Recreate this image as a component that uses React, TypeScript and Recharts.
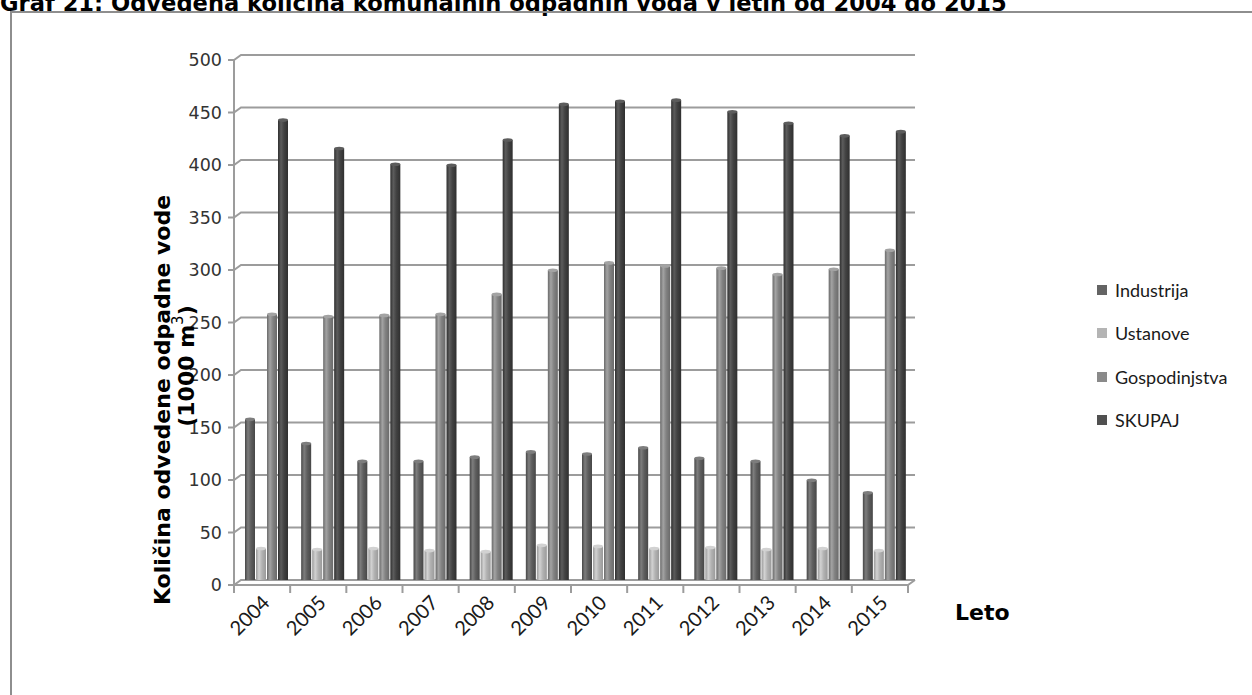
import { Bar, BarChart, CartesianGrid, Legend, XAxis, YAxis } from "recharts"

// Odvedena količina komunalnih odpadnih voda (1000 m3)
const years = ["2004", "2005", "2006", "2007", "2008", "2009", "2010", "2011", "2012", "2013", "2014", "2015"]
const industrija = [153, 130, 113, 113, 117, 122, 120, 126, 116, 113, 95, 83]
const ustanove = [30, 29, 30, 28, 27, 33, 32, 30, 31, 29, 30, 28]
const gospodinjstva = [253, 251, 252, 253, 272, 295, 302, 299, 297, 291, 296, 314]
const skupaj = [438, 411, 396, 395, 419, 453, 456, 457, 446, 435, 423, 427]
const yTicks = [0, 50, 100, 150, 200, 250, 300, 350, 400, 450, 500]

const series = [
    { key: "industrija", name: "Industrija", base: "#5e5e5e", light: "#7d7d7d", dark: "#474747", swatch: "#646464" },
    { key: "ustanove", name: "Ustanove", base: "#b2b2b2", light: "#d2d2d2", dark: "#9a9a9a", swatch: "#b4b4b4" },
    { key: "gospodinjstva", name: "Gospodinjstva", base: "#828282", light: "#a3a3a3", dark: "#6a6a6a", swatch: "#8a8a8a" },
    { key: "skupaj", name: "SKUPAJ", base: "#424242", light: "#5c5c5c", dark: "#2f2f2f", swatch: "#505050" },
]

const data = years.map((year, i) => ({
    year,
    industrija: industrija[i],
    ustanove: ustanove[i],
    gospodinjstva: gospodinjstva[i],
    skupaj: skupaj[i],
}))

const GRID = "#9c9c9c"
const DEPTH_X = 7
const DEPTH_Y = 5

function Cylinder(props: any) {
    const { x, y, width, height, gid, top } = props
    if (!height || height <= 0) return null
    const bx = x + 4
    return (
        <g>
            <rect x={bx} y={y} width={width} height={height} fill={`url(#${gid})`} />
            <ellipse cx={bx + width / 2} cy={y} rx={width / 2} ry={1.8} fill={top} />
        </g>
    )
}

function GridLine(props: any) {
    const { x1, y1, x2, y, height, index } = props
    const isTop = Math.abs(y1 - y) < 0.5
    const isBottom = Math.abs(y1 - (y + height)) < 0.5
    return (
        <g key={`gl-${index}`} fill="none" stroke={GRID} strokeWidth={2}>
            <path d={`M${x1 - 6},${y1 + DEPTH_Y} H${x1} L${x1 + DEPTH_X},${y1} H${x2 + DEPTH_X}`} />
            {isTop && <line x1={x1} y1={y1 + DEPTH_Y} x2={x1} y2={y + height + DEPTH_Y} />}
            {isBottom && <path d={`M${x1},${y1 + DEPTH_Y} H${x2} L${x2 + DEPTH_X},${y1}`} />}
        </g>
    )
}

function TickMark(props: any) {
    const { x1, y2, index } = props
    return (
        <line key={`tm-${index}`} x1={x1} y1={y2 + DEPTH_Y} x2={x1} y2={y2 + DEPTH_Y + 8} stroke={GRID} strokeWidth={2} />
    )
}

const renderYTick = (props: any) => {
    const { x, y, payload } = props
    return (
        <text x={x} y={y + DEPTH_Y} dy="0.35em" textAnchor="end" fontFamily="DejaVu Sans" fontSize={17.5} fill="#333">
            {payload.value}
        </text>
    )
}

const renderXTick = (props: any) => {
    const { x, y, payload } = props
    const ax = x + 9
    const ay = y + 24
    return (
        <text x={ax} y={ay} textAnchor="end" transform={`rotate(-45 ${ax} ${ay})`} fontFamily="Lato" fontSize={20} fill="#1a1a1a">
            {payload.value}
        </text>
    )
}

function LegendBox() {
    return (
        <div style={{ fontFamily: "Lato", fontSize: 18, color: "#1a1a1a" }}>
            {series.map((s) => (
                <div key={s.key} style={{ display: "flex", alignItems: "center", height: 43.5 }}>
                    <span style={{ width: 10, height: 10, background: s.swatch, marginRight: 8, display: "inline-block" }} />
                    {s.name}
                </div>
            ))}
        </div>
    )
}

export default function App() {
    return (
        <div style={{ position: "absolute", left: 0, top: 0, width: 1252, height: 695, overflow: "hidden", background: "#fff" }}>
            <div
                style={{
                    position: "absolute",
                    left: 0,
                    top: -8,
                    fontFamily: "DejaVu Sans",
                    fontWeight: "bold",
                    fontSize: 22.6,
                    lineHeight: "23px",
                    whiteSpace: "nowrap",
                    color: "#000",
                }}
            >
                Graf 21: Odvedena količina komunalnih odpadnih voda v letih od 2004 do 2015
            </div>
            <div
                style={{
                    position: "absolute",
                    left: 10,
                    top: 11,
                    width: 1400,
                    height: 900,
                    border: "2px solid #8e8e8e",
                    boxSizing: "border-box",
                }}
            />
            <div style={{ position: "absolute", left: 0, top: 0 }}>
                <BarChart
                    width={1252}
                    height={695}
                    data={data}
                    margin={{ top: 55, right: 344, left: 174, bottom: 85 }}
                    barCategoryGap="10%"
                    barGap={1}
                >
                    <defs>
                        {series.map((s) => (
                            <linearGradient key={s.key} id={`g-${s.key}`} x1="0" y1="0" x2="1" y2="0">
                                <stop offset="0%" stopColor={s.dark} />
                                <stop offset="30%" stopColor={s.light} />
                                <stop offset="60%" stopColor={s.base} />
                                <stop offset="100%" stopColor={s.dark} />
                            </linearGradient>
                        ))}
                    </defs>
                    <CartesianGrid
                        horizontal={GridLine}
                        vertical={TickMark}
                        verticalCoordinatesGenerator={({ offset }: any) => [
                            ...years.map((_, i) => offset.left + (i * offset.width) / years.length),
                            offset.left + offset.width,
                        ]}
                    />
                    <XAxis
                        dataKey="year"
                        height={30}
                        axisLine={false}
                        tickLine={false}
                        tickSize={0}
                        tickMargin={0}
                        interval={0}
                        tick={renderXTick}
                    />
                    <YAxis
                        width={60}
                        domain={[0, 500]}
                        ticks={yTicks}
                        interval={0}
                        axisLine={false}
                        tickLine={false}
                        tickSize={0}
                        tickMargin={12}
                        tick={renderYTick}
                    />
                    <Legend
                        layout="vertical"
                        align="center"
                        verticalAlign="middle"
                        wrapperStyle={{ position: "absolute", left: 1097, top: 268, width: 150 }}
                        content={() => <LegendBox />}
                    />
                    {series.map((s) => (
                        <Bar
                            key={s.key}
                            dataKey={s.key}
                            name={s.name}
                            fill={s.base}
                            barSize={10}
                            isAnimationActive={false}
                            shape={(p: any) => <Cylinder {...p} gid={`g-${s.key}`} top={s.light} />}
                        />
                    ))}
                </BarChart>
            </div>
            <svg width={1252} height={695} style={{ position: "absolute", left: 0, top: 0, pointerEvents: "none" }}>
                <text
                    x={162}
                    y={400}
                    transform="rotate(-90 162 400)"
                    textAnchor="middle"
                    dominantBaseline="central"
                    fontFamily="DejaVu Sans"
                    fontWeight="bold"
                    fontSize={22}
                    fill="#000"
                >
                    Količina odvedene odpadne vode
                </text>
                <text
                    x={186}
                    y={366}
                    transform="rotate(-90 186 366)"
                    textAnchor="middle"
                    dominantBaseline="central"
                    fontFamily="DejaVu Sans"
                    fontWeight="bold"
                    fontSize={22}
                    fill="#000"
                >
                    (1000 m<tspan fontWeight="normal" fontSize={15} dy={-8}>3</tspan><tspan dy={8}>)</tspan>
                </text>
                <text x={955} y={620} fontFamily="DejaVu Sans" fontWeight="bold" fontSize={22} fill="#000">
                    Leto
                </text>
            </svg>
        </div>
    )
}
